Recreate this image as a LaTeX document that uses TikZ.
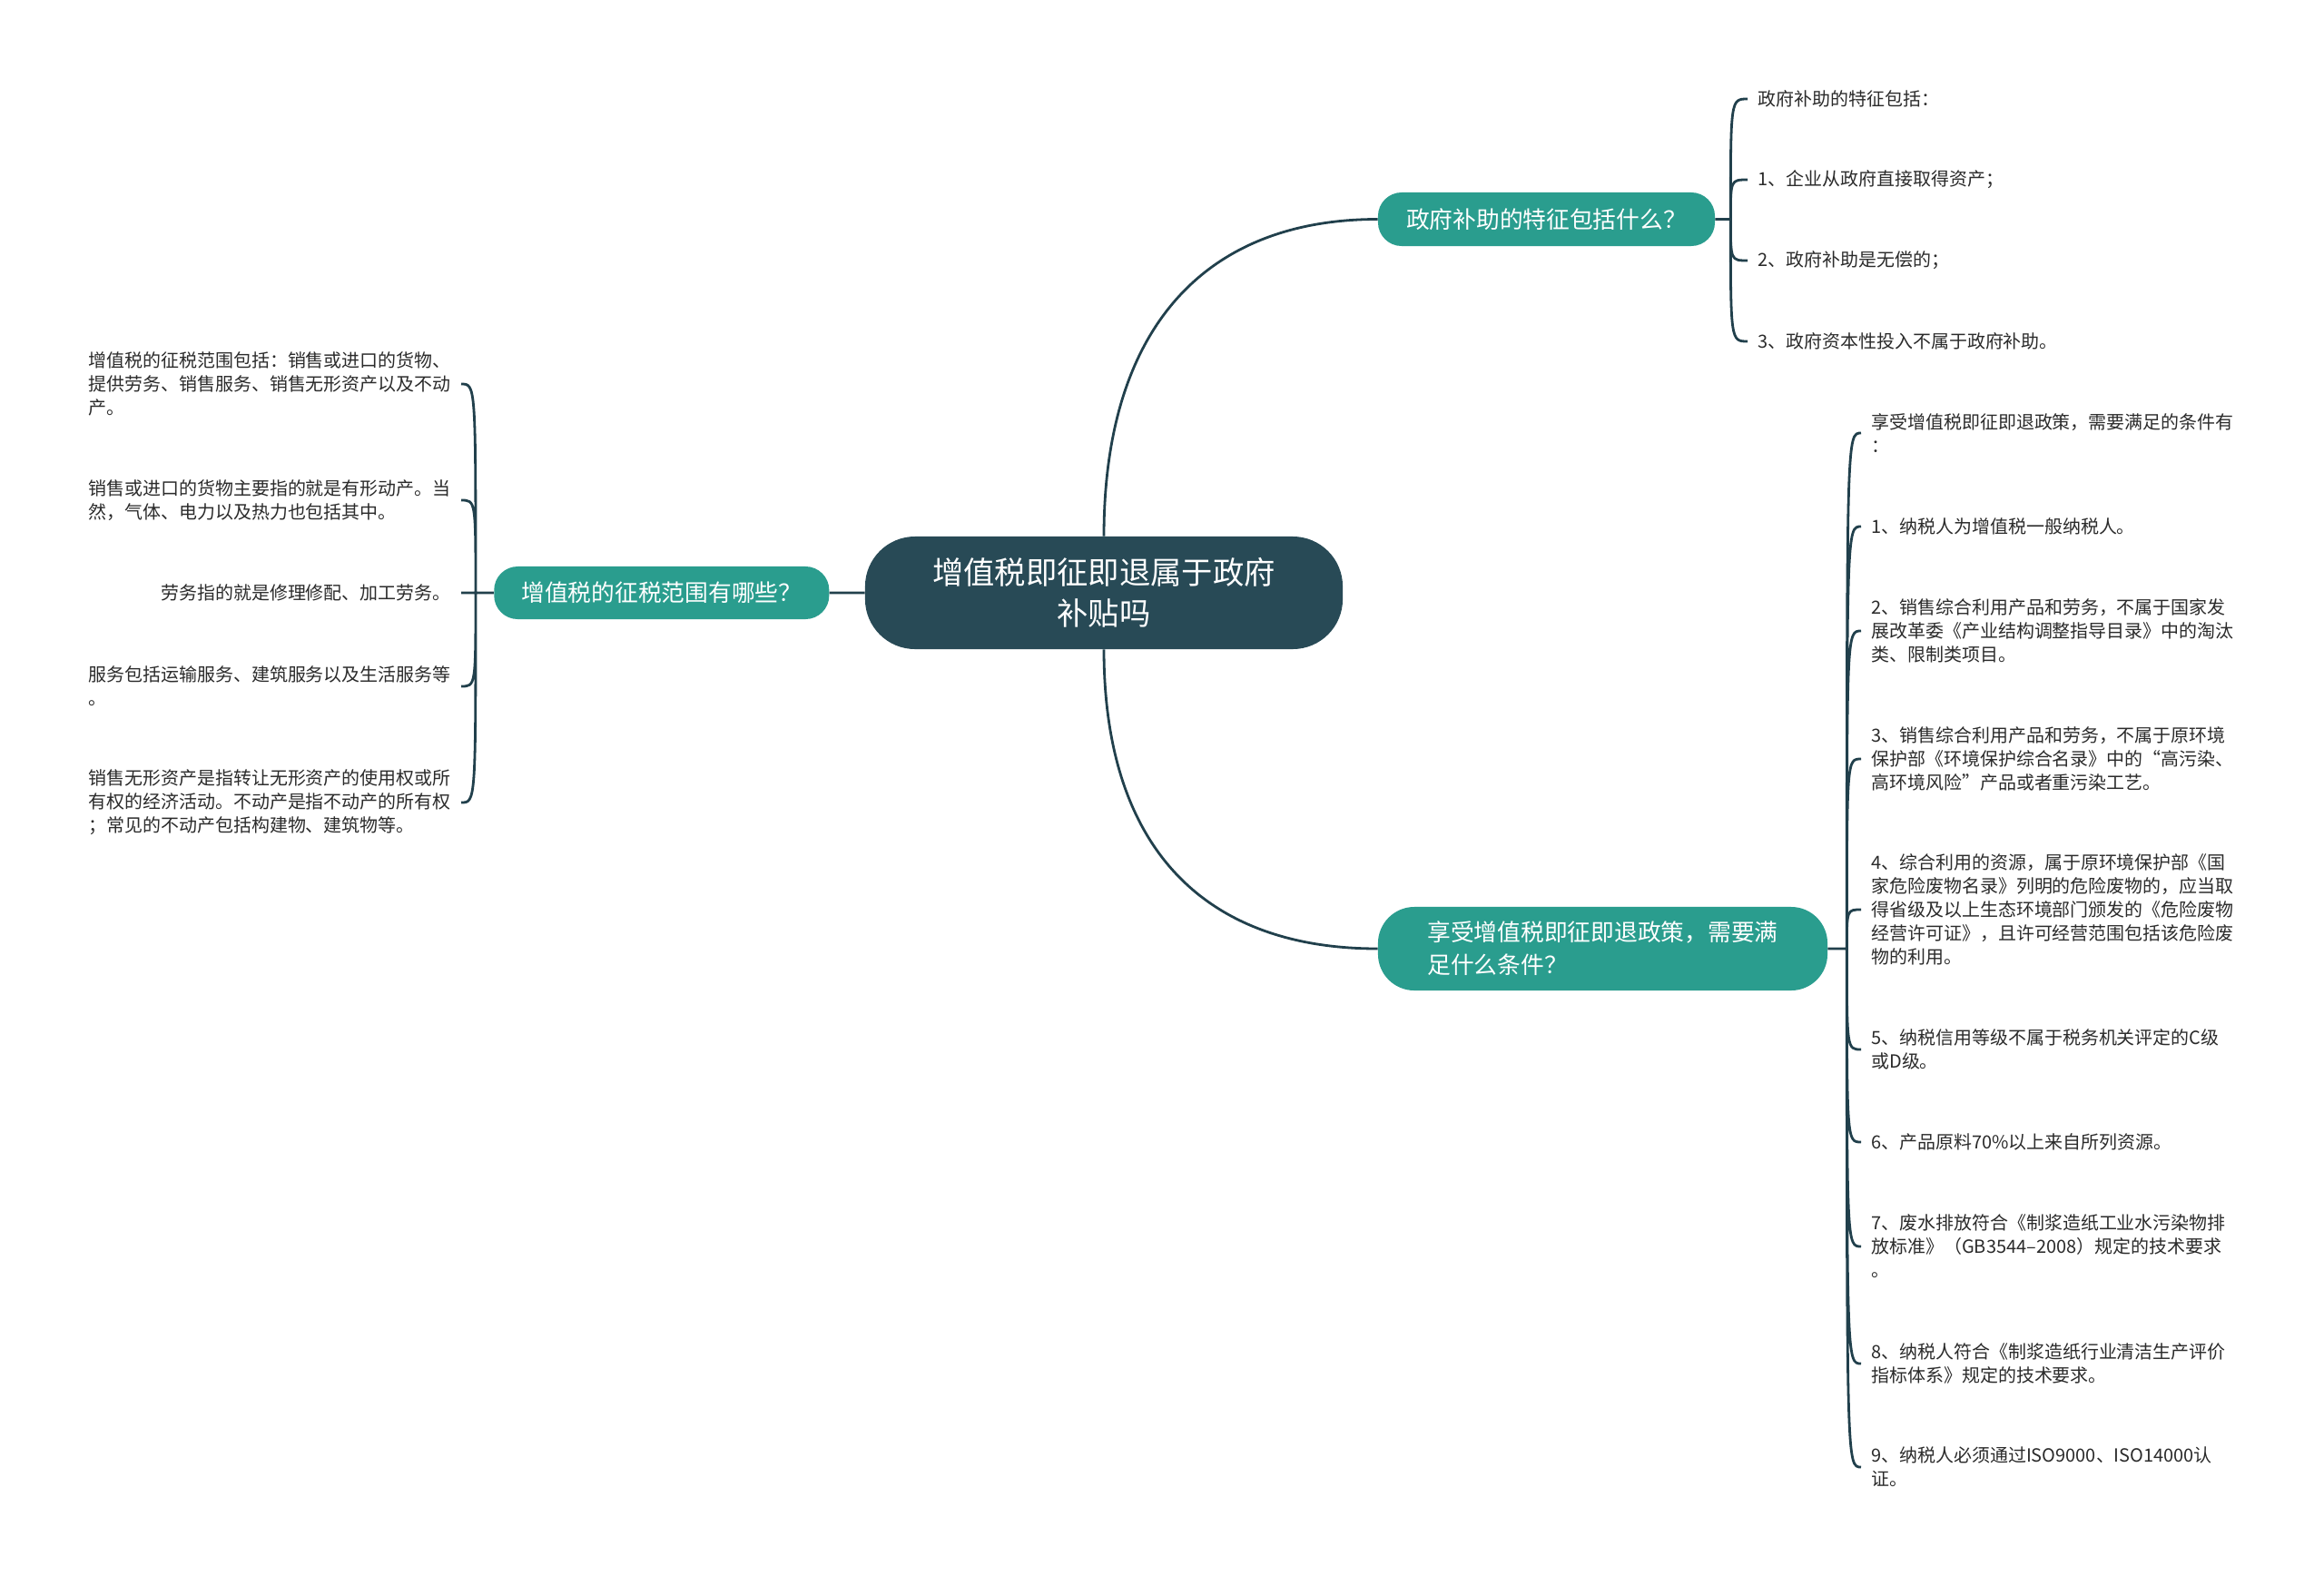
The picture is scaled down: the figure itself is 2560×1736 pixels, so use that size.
\documentclass[tikz,border=0pt]{standalone}
\usepackage{fontspec}
\setmainfont{Noto Sans CJK SC}
\usetikzlibrary{positioning}

\definecolor{rootfill}{HTML}{284A56}
\definecolor{topicfill}{HTML}{2A9D8E}
\definecolor{linkcolor}{HTML}{21404C}
\definecolor{leaftext}{HTML}{2B2B2B}

\begin{document}
\begin{tikzpicture}[
  x = 0.025cm, y = -0.025cm,
  root/.style = {fill=rootfill, text=white, rounded corners=1.375cm, minimum width=13.15cm, minimum height=3.1cm, align=center, font=\fontsize{24.4pt}{32.4pt}\selectfont},
  topic/.style = {fill=topicfill, text=white, rounded corners=0.65cm, minimum height=1.45cm, font=\fontsize{18.3pt}{25.6pt}\selectfont},
  leaf_l/.style = {anchor=east, align=left, inner xsep=0.275cm, inner ysep=0pt, text=leaftext, font=\fontsize{14.2pt}{18.5pt}\selectfont},
  leaf_r/.style = {leaf_l, anchor=west},
  link/.style = {draw=linkcolor, line width=0.07cm}
]
  % Fix the canvas
  \path[fill=white, use as bounding box] (0,0) rectangle (2560,1736);

  % Place the root and the topics
  \node[root] (root) at (1216,653) {增值税即征即退属于政府\\补贴吗};
  \node[topic, minimum width=9.225cm] (sub_0) [left=0.975cm of root] {增值税的征税范围有哪些？};
  \node[topic, minimum width=9.275cm, minimum height=1.475cm] (sub_1) at (1703.5,241.5) {政府补助的特征包括什么？};
  \node[topic, minimum width=12.375cm, minimum height=2.3cm, rounded corners=1cm, align=left] (sub_2) at (1765.5,1045) {享受增值税即征即退政策，需要满\\足什么条件？};

  % Place the joints of the brackets
  \coordinate[left=0.5cm of sub_0] (j_0);
  \coordinate[right=0.425cm of sub_1] (j_1);
  \coordinate[right=0.525cm of sub_2] (j_2);

  % Place the leaves of the left topic
  \node[leaf_l] (leaf_0_0) at (508,423) {增值税的征税范围包括：销售或进口的货物、\\提供劳务、销售服务、销售无形资产以及不动\\产。};
  \node[leaf_l] (leaf_0_1) at (508,551) {销售或进口的货物主要指的就是有形动产。当\\然，气体、电力以及热力也包括其中。};
  \node[leaf_l] (leaf_0_2) at (508,653) {劳务指的就是修理修配、加工劳务。};
  \node[leaf_l] (leaf_0_3) at (508,756) {服务包括运输服务、建筑服务以及生活服务等\\。};
  \node[leaf_l] (leaf_0_4) at (508,884) {销售无形资产是指转让无形资产的使用权或所\\有权的经济活动。不动产是指不动产的所有权\\；常见的不动产包括构建物、建筑物等。};

  % Place the leaves of the upper right topic
  \node[leaf_r] (leaf_1_0) at (1925,109) {政府补助的特征包括：};
  \node[leaf_r] (leaf_1_1) at (1925,198) {1、企业从政府直接取得资产；};
  \node[leaf_r] (leaf_1_2) at (1925,287) {2、政府补助是无偿的；};
  \node[leaf_r] (leaf_1_3) at (1925,376) {3、政府资本性投入不属于政府补助。};

  % Place the leaves of the lower right topic
  \node[leaf_r] (leaf_2_0) at (2050,477) {享受增值税即征即退政策，需要满足的条件有\\：};
  \node[leaf_r] (leaf_2_1) at (2050,580) {1、纳税人为增值税一般纳税人。};
  \node[leaf_r] (leaf_2_2) at (2050,695) {2、销售综合利用产品和劳务，不属于国家发\\展改革委《产业结构调整指导目录》中的淘汰\\类、限制类项目。};
  \node[leaf_r] (leaf_2_3) at (2050,836) {3、销售综合利用产品和劳务，不属于原环境\\保护部《环境保护综合名录》中的“高污染、\\高环境风险”产品或者重污染工艺。};
  \node[leaf_r] (leaf_2_4) at (2050,1002) {4、综合利用的资源，属于原环境保护部《国\\家危险废物名录》列明的危险废物的，应当取\\得省级及以上生态环境部门颁发的《危险废物\\经营许可证》，且许可经营范围包括该危险废\\物的利用。};
  \node[leaf_r] (leaf_2_5) at (2050,1156) {5、纳税信用等级不属于税务机关评定的C级\\或D级。};
  \node[leaf_r] (leaf_2_6) at (2050,1258) {6、产品原料70\%以上来自所列资源。};
  \node[leaf_r] (leaf_2_7) at (2050,1373) {7、废水排放符合《制浆造纸工业水污染物排\\放标准》（GB3544–2008）规定的技术要求\\。};
  \node[leaf_r] (leaf_2_8) at (2050,1502) {8、纳税人符合《制浆造纸行业清洁生产评价\\指标体系》规定的技术要求。};
  \node[leaf_r] (leaf_2_9) at (2050,1616) {9、纳税人必须通过ISO9000、ISO14000认\\证。};

  % Draw the main links
  \path[link]
    (root.west) -- (sub_0.east)
    (root.north) .. controls +(0,-230) and +(-190,0) .. (sub_1.west)
    (root.south) .. controls +(0,220) and +(-190,0) .. (sub_2.west)
  ;

  % Draw the brackets
  \path[link]
    (sub_0.west) -- (j_0)
    (j_0) .. controls (j_0 |- leaf_0_0.east) .. (leaf_0_0.east)
    (j_0) .. controls (j_0 |- leaf_0_1.east) .. (leaf_0_1.east)
    (j_0) -- (leaf_0_2.east)
    (j_0) .. controls (j_0 |- leaf_0_3.east) .. (leaf_0_3.east)
    (j_0) .. controls (j_0 |- leaf_0_4.east) .. (leaf_0_4.east)
  ;
  \path[link]
    (sub_1.east) -- (j_1)
    (j_1) .. controls (j_1 |- leaf_1_0.west) .. (leaf_1_0.west)
    (j_1) .. controls (j_1 |- leaf_1_1.west) .. (leaf_1_1.west)
    (j_1) .. controls (j_1 |- leaf_1_2.west) .. (leaf_1_2.west)
    (j_1) .. controls (j_1 |- leaf_1_3.west) .. (leaf_1_3.west)
  ;
  \path[link]
    (sub_2.east) -- (j_2)
    (j_2) .. controls (j_2 |- leaf_2_0.west) .. (leaf_2_0.west)
    (j_2) .. controls (j_2 |- leaf_2_1.west) .. (leaf_2_1.west)
    (j_2) .. controls (j_2 |- leaf_2_2.west) .. (leaf_2_2.west)
    (j_2) .. controls (j_2 |- leaf_2_3.west) .. (leaf_2_3.west)
    (j_2) .. controls (j_2 |- leaf_2_4.west) .. (leaf_2_4.west)
    (j_2) .. controls (j_2 |- leaf_2_5.west) .. (leaf_2_5.west)
    (j_2) .. controls (j_2 |- leaf_2_6.west) .. (leaf_2_6.west)
    (j_2) .. controls (j_2 |- leaf_2_7.west) .. (leaf_2_7.west)
    (j_2) .. controls (j_2 |- leaf_2_8.west) .. (leaf_2_8.west)
    (j_2) .. controls (j_2 |- leaf_2_9.west) .. (leaf_2_9.west)
  ;
\end{tikzpicture}
\end{document}
